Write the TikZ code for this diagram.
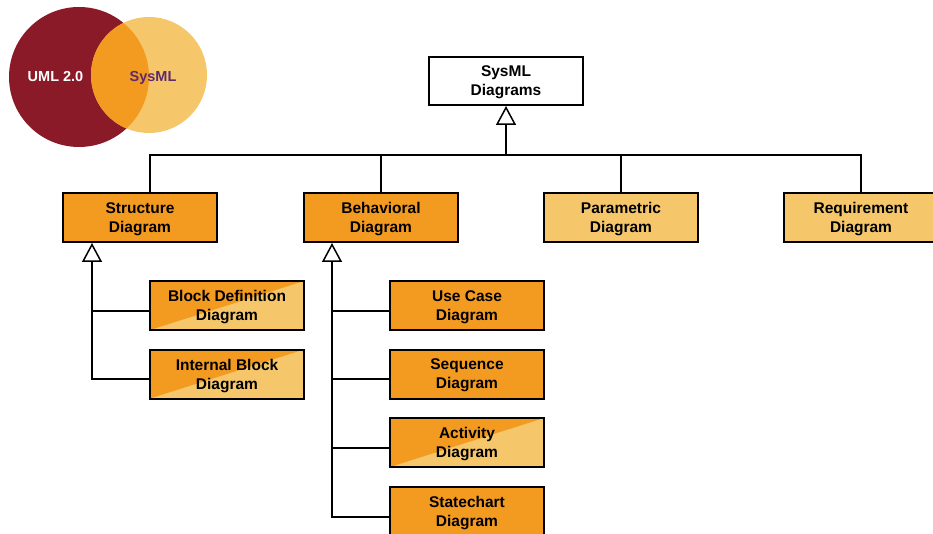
\documentclass[tikz,border=0pt]{standalone}
\usepackage{fontspec}
\setmainfont{Liberation Sans}
\usetikzlibrary{arrows.meta}

\definecolor{umlred}{HTML}{8B1A28}
\definecolor{lightor}{HTML}{F6C76A}
\definecolor{darkor}{HTML}{F39A21}
\definecolor{sysmltxt}{HTML}{5E2A6E}

\begin{document}
\begin{tikzpicture}[x=1pt, y=-1pt,
    box/.style={rectangle, draw, line width=2pt, minimum width=154pt, minimum height=49pt,
      inner sep=0pt, text depth=0pt, align=center, font=\bfseries\fontsize{15.5}{19}\selectfont},
    dark/.style={box, fill=darkor},
    light/.style={box, fill=lightor},
    split/.style={box, fill=lightor, path picture={
      \fill[darkor] (path picture bounding box.south west) -- (path picture bounding box.north west)
        -- (path picture bounding box.north east) -- cycle;}},
    conn/.style={line width=2pt},
    gen/.style={conn, -{Triangle[length=19pt, width=20pt, fill=white, line width=1.5pt]}}]
    \useasboundingbox (0,0) rectangle (933,534);

    % UML 2.0 / SysML
    \fill[umlred] (79,77) circle (70pt);
    \fill[lightor] (149,75) circle (58pt);
    \begin{scope}
      \clip (79,77) circle (70pt);
      \fill[darkor] (149,75) circle (58pt);
    \end{scope}
    \node[text=white, font=\bfseries\fontsize{14.5}{17}\selectfont] (uml) at (55.5,77) {UML 2.0};
    \node[text=sysmltxt, font=\bfseries\fontsize{14.5}{17}\selectfont] (sml) at (153,78) {SysML};

    \node[box, fill=white, minimum height=48pt] (sysml) at (506,81) {SysML\\Diagrams};
    \node[dark] (sd) at (140,217.5) {Structure\\Diagram};
    \node[dark] (bd) at (381,217.5) {Behavioral\\Diagram};
    \node[light] (pd) at (621,217.5) {Parametric\\Diagram};
    \node[light] (rd) at (861,217.5) {Requirement\\Diagram};
    \node[split] (bdd) at (227,305.5) {Block Definition\\Diagram};
    \node[split] (ibd) at (227,374) {Internal Block\\Diagram};
    \node[dark] (uc) at (467,305.5) {Use Case\\Diagram};
    \node[dark] (seq) at (467,374) {Sequence\\Diagram};
    \node[split] (act) at (467,442.5) {Activity\\Diagram};
    \node[dark] (stm) at (467,511.5) {Statechart\\Diagram};

    % 線を引く
    \coordinate (bus) at (506,155);
    \draw[gen] (bus) -- (sysml.south);
    \draw[conn] ([xshift=10pt]sd.north) |- (rd.north |- bus) -- (rd.north);
    \draw[conn] (bd.north) -- (bd.north |- bus);
    \draw[conn] (pd.north) -- (pd.north |- bus);

    \coordinate (sdt) at ([xshift=30pt]sd.south west);
    \coordinate (bddc) at ([yshift=-5pt]bdd.west);
    \coordinate (ibdc) at ([yshift=-5pt]ibd.west);
    \draw[gen] (ibdc) -| (sdt);
    \draw[conn] (bddc) -- (bddc -| sdt);

    \coordinate (bdt) at ([xshift=29pt]bd.south west);
    \coordinate (ucc) at ([yshift=-5pt]uc.west);
    \coordinate (seqc) at ([yshift=-5pt]seq.west);
    \coordinate (actc) at ([yshift=-5pt]act.west);
    \coordinate (stmc) at ([yshift=-5pt]stm.west);
    \draw[gen] (stmc) -| (bdt);
    \draw[conn] (ucc) -- (ucc -| bdt);
    \draw[conn] (seqc) -- (seqc -| bdt);
    \draw[conn] (actc) -- (actc -| bdt);
\end{tikzpicture}
\end{document}
